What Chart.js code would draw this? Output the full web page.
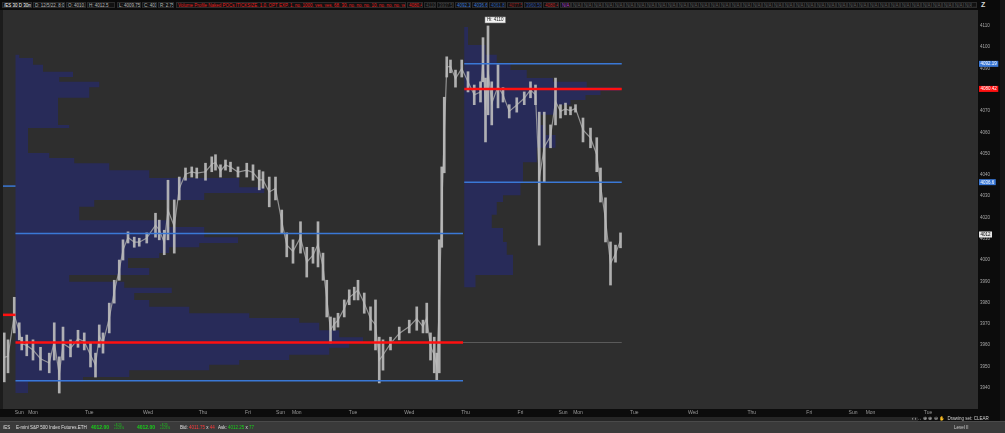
<!DOCTYPE html>
<html>
<head>
<meta charset="utf-8">
<title>ES 30m volume profile</title>
<script src="https://cdn.jsdelivr.net/npm/chart.js"></script>
<style>
  html, body { margin: 0; padding: 0; background: #0c0c0c; width: 1005px; height: 433px; overflow: hidden;
               font-family: "Liberation Sans", Arial, sans-serif; }
  #wrap { position: absolute; left: 0; top: 0; width: 1005px; height: 417px; }
  #header { position: absolute; left: 0; top: 0; width: 1005px; height: 10px; background: #0a0a0a; z-index: 2; }
  .hb { position: absolute; top: 2px; height: 6px; line-height: 6px; font-size: 4.5px; white-space: nowrap; overflow: hidden;
        border: 1px solid #2c2c2c; background: #121212; color: #b8b8b8; padding: 0 1px; box-sizing: border-box; }
  #vscroll { position: absolute; left: 1000px; top: 0; width: 5px; height: 421px; background: #161616; z-index: 2; }
  #hscroll { position: absolute; left: 0; top: 417px; width: 918px; height: 4px; background: #262626; }
  #tools { position: absolute; left: 912px; top: 415px; width: 88px; height: 7px; font-size: 4.5px; line-height: 7px;
           color: #d0d0d0; white-space: nowrap; }
  #status { position: absolute; left: 0; top: 421px; width: 1005px; height: 12px; background: #3a3a3a;
            border-top: 1px solid #4a4a4a; box-sizing: border-box; }
  .sb { position: absolute; top: 3px; font-size: 4.5px; line-height: 6px; white-space: nowrap; color: #e0e0e0; }
  .big { font-weight: bold; font-size: 5px; color: #19d119; }
  .tiny { font-size: 3px; line-height: 3px; color: #19d119; }
</style>
</head>
<body>
<div id="wrap"><canvas id="chart" width="1005" height="417"></canvas></div>
<div id="header"></div>
<div id="vscroll"></div>
<div id="hscroll"></div>
<div id="tools">‹ › ↔ ⊕ ⊕ ⊖ ✋ &nbsp;Drawing set: CLEAR</div>
<div id="status">
  <span class="sb" style="left:3px">/ES</span>
  <span class="sb" style="left:16px">E-mini S&amp;P 500 Index Futures.ETH</span>
  <span class="sb big" style="left:91px;top:2px">4012.00</span>
  <span class="sb tiny" style="left:114px;top:2px">+8.25<br>+0.21%</span>
  <span class="sb big" style="left:137px;top:2px">4012.00</span>
  <span class="sb tiny" style="left:160px;top:2px">+8.25<br>+0.21%</span>
  <span class="sb" style="left:180px">Bid: <span style="color:#ff3b3b">4011.75</span> x <span style="color:#ff3b3b">44</span></span>
  <span class="sb" style="left:218px">Ask: <span style="color:#19d119">4012.25</span> x <span style="color:#19d119">77</span></span>
  <span class="sb" style="left:954px;color:#cfcfcf">Level II</span>
</div>
<script>
// ---- x axis: 30-minute bars since the left edge of the chart ----
const dayTickBars = [13, 24, 69, 116, 160, 196, 222, 235, 280, 325, 370, 414, 448, 460, 505, 552, 599, 645, 680, 694, 740];
const dayTickLabels = ['Sun', 'Mon', 'Tue', 'Wed', 'Thu', 'Fri', 'Sun', 'Mon', 'Tue', 'Wed', 'Thu', 'Fri',
                       'Sun', 'Mon', 'Tue', 'Wed', 'Thu', 'Fri', 'Sun', 'Mon', 'Tue'];
const priceTicks = [3940, 3950, 3960, 3970, 3980, 3990, 4000, 4010, 4020, 4030, 4040, 4050,
                    4060, 4070, 4080, 4090, 4100, 4110];

// ---- price ranges (low / high) sampled along the bars ----
const barTime = [1, 4, 9, 13, 15, 19, 24, 30, 37, 41, 45, 48, 54, 60, 65, 70, 74, 77, 80, 85,
  89, 93, 96, 100, 105, 109, 115, 122, 125, 129, 132, 137, 141, 146, 151, 155, 162, 167, 170, 174,
  178, 182, 188, 195, 200, 205, 208, 213, 218, 223, 227, 232, 238, 243, 248, 252, 256, 259, 262, 265,
  268, 273, 277, 281, 284, 289, 294, 298, 301, 304, 310, 317, 325, 331, 336, 339, 342, 345, 347, 349,
  351, 353, 355, 358, 362, 367, 372, 377, 382, 384, 386, 388, 391, 396, 400, 405, 411, 417, 422, 426,
  429, 433, 438, 442, 446, 450, 454, 458, 464, 470, 475, 478, 482, 486, 490, 494];
const barLow = [3942.75, 3947, 3965.75, 3962.5, 3957.75, 3955, 3953, 3948.25, 3947, 3953, 3937.5, 3953,
  3954.5, 3959, 3957.75, 3949.75, 3945, 3959, 3956.25, 3965.75, 3979.75, 3990.5, 4000, 4008, 4006,
  4006.5, 4008, 4010.75, 4009.5, 4002.5, 4009.5, 4003.25, 4028.25, 4037.5, 4039, 4038.5, 4037.5, 4041.5,
  4042.25, 4039, 4042.25, 4041.5, 4039, 4039, 4037.5, 4033, 4033.75, 4025, 4028.25, 4012.75, 4001.5,
  3998.5, 4003.25, 3992, 3998.5, 3996.75, 3990.5, 3973.25, 3961, 3967, 3968.5, 3973.25, 3979, 3981.25,
  3981.25, 3975, 3967, 3957.75, 3942.25, 3948.25, 3957.75, 3962.5, 3965.75, 3967, 3965.75, 3965.75,
  3953, 3947, 3943.5, 3947, 4006, 4041, 4086, 4088, 4081.25, 4086, 4079, 4073, 4074.25, 4083.75,
  4055.5, 4068.25, 4063.5, 4071.5, 4074.25, 4066.75, 4069.5, 4073, 4076.25, 4073, 4007, 4036.75,
  4052.75, 4063.5, 4066.75, 4068.25, 4068.25, 4069.5, 4055.5, 4052.75, 4041.5, 4027.25, 4008.5,
  3988.25, 3999, 4005.75];
const barHigh = [3965.75, 3962.5, 3982.5, 3970.5, 3963.75, 3964.75, 3962.5, 3959, 3956.25, 3970.5, 3954.5,
  3968.5, 3962.5, 3967, 3965.75, 3961, 3956.25, 3969.5, 3965.75, 3979.75, 3990.5, 4000, 4009.5, 4013.25,
  4010.75, 4010.25, 4012.75, 4022, 4018.75, 4014, 4037.5, 4028.25, 4039, 4043.25, 4043.75, 4043.25,
  4045.5, 4048.5, 4049.5, 4044.75, 4047, 4046, 4043.75, 4045.5, 4044.75, 4042.25, 4041.5, 4039, 4039,
  4023.5, 4012.75, 4009.5, 4018, 4006, 4006, 4018, 4003.25, 3990.5, 3973.25, 3972.75, 3975, 3981.25,
  3986, 3987.25, 3990.5, 3984.5, 3978, 3981.25, 3963.75, 3962.5, 3963.75, 3968.5, 3971.75, 3978,
  3971.75, 3979.75, 3965.75, 3963.75, 3956.25, 4009.5, 4043.75, 4076.5, 4095.5, 4094, 4089.25, 4094,
  4088.5, 4082.25, 4083.75, 4104.5, 4085.5, 4110, 4083.75, 4091.75, 4081, 4073, 4076.25, 4079, 4083.75,
  4082.25, 4069.5, 4069.5, 4063.5, 4085.5, 4073, 4073.75, 4072, 4073, 4066.75, 4062, 4057.5, 4043.25,
  4029.25, 4008.5, 4007, 4012.75];

// ---- volume profiles: row top price (top to bottom) and relative volume ----
const leftProfileStart = 10;
const leftProfileTop = [4096.5, 4095, 4091.75, 4088.5, 4086, 4083.75, 4081.25, 4076.25, 4063.5, 4062,
  4050.25, 4048, 4045.5, 4042.25, 4038.5, 4034.25, 4031.5, 4028.25, 4025, 4018.75, 4015.5, 4010.75,
  4008, 4006, 4003.25, 4001, 3996.25, 3993, 3989.75, 3987, 3984.5, 3981.25, 3978, 3975, 3972.75,
  3970.5, 3967, 3963.75, 3961, 3958.75, 3955.5, 3953, 3950.75, 3948.25, 3945, 3942.75];
const leftProfileVol = [3, 14, 22, 46, 35, 67, 59, 34, 43, 10, 27, 47, 75, 107, 179, 199, 151, 63, 51,
  123, 151, 178, 147, 123, 115, 90, 107, 43, 87, 125, 95, 107, 139, 187, 227, 243, 259, 278, 267, 251,
  219, 179, 155, 91, 54, 10];
const leftProfileLow = 3937.5;

const rightProfileStart = 369;
const rightProfileTop = [4109.5, 4101, 4096.5, 4092.5, 4089.25, 4085.5, 4083.75, 4081.25, 4079.5, 4077.5,
  4075.25, 4073, 4068.25, 4063.5, 4058.75, 4052.75, 4046, 4036.75, 4030.5, 4027.25, 4021.25, 4015,
  4008.5, 4002.5, 3993];
const rightProfileVol = [3, 17, 26, 37, 50, 71, 98, 125, 109, 97, 85, 74, 61, 65, 73, 58, 47, 45, 31, 26,
  22, 31, 34, 39, 9];
const rightProfileLow = 3987.25;

// ---- value area / POC levels ----
const levelPrice = [4012.5, 3961.25, 3943.25, 4034.75, 3974.25, 4092.19, 4080.42, 4036.6, 3961.25];
const levelFrom  = [10, 10, 10, 0, 0, 369, 369, 369, 368];
const levelTo    = [368, 368, 368, 10, 10, 495, 495, 495, 495];
const levelKind  = ['va', 'poc', 'va', 'va', 'poc', 'va', 'poc', 'va', 'naked'];

// ---- price axis markers ----
const markerValues = [4092.19, 4080.42, 4036.6, 4012];
const markerKinds = ['va', 'poc', 'va', 'last'];

const BLUE = '#3a78d6';
const RED = '#ff1010';
const PROFILE = '#282b59';
const FONT = '"Liberation Sans", Arial, sans-serif';

// header strip
const headerItems = [
  [2, 30, '/ES 30 D 30m', '#ffffff'], [33, 32, 'D: 12/5/22, 8:00 PM', '#b8b8b8'],
  [66, 20, 'O: 4010.5', '#b8b8b8'], [87, 28, 'H: 4012.5', '#b8b8b8'], [117, 24, 'L: 4009.75', '#b8b8b8'],
  [142, 15, 'C: 4012', '#b8b8b8'], [158, 16, 'R: 2.75', '#b8b8b8'],
  [176, 230, 'Volume Profile Naked POCs [TICKSIZE, 1.0, OPT EXP, 1, no, 1000, yes, yes, 68, 30, no, no, no, 10, no, no, no, yes]', '#e52020'],
  [407, 16, '4080.42', '#e52020'], [424, 12, '4110', '#4a4a4a'], [437, 17, '3937.5', '#4a4a4a'],
  [455, 16, '4092.19', '#3a78d6'], [472, 16, '4036.6', '#3a78d6'], [489, 17, '4061.81', '#2a5aa8'],
  [507, 16, '4077.50', '#9a2020'], [524, 18, '3960.50', '#2c4c9c'], [543, 16, '4080.42', '#c02828'],
  [560, 11, 'N/A', '#b040c8']
];
const header = document.getElementById('header');
function addBox(left, width, text, color) {
  const s = document.createElement('span');
  s.className = 'hb';
  s.style.left = left + 'px';
  s.style.width = width + 'px';
  s.style.color = color;
  s.textContent = text;
  header.appendChild(s);
}
headerItems.forEach(h => addBox(h[0], h[1], h[2], h[3]));
for (let x = 571; x < 968; x += 10.6) addBox(Math.round(x), 11, 'N/A', '#5a5a5a');
addBox(971, 6, '…', '#5a5a5a');
const z = document.createElement('span');
z.textContent = 'Z';
z.style.cssText = 'position:absolute;left:981px;top:1px;font-size:7px;line-height:8px;color:#d8d8d8;font-weight:bold;';
header.appendChild(z);

function profileShape(start, tops, vols, low) {
  const pts = [{x: start, y: tops[0]}];
  for (let i = 0; i < tops.length; i++) {
    const bottom = i + 1 < tops.length ? tops[i + 1] : low;
    pts.push({x: start + vols[i], y: tops[i]});
    pts.push({x: start + vols[i], y: bottom});
  }
  pts.push({x: start, y: low});
  return pts;
}

const levelStyle = {
  va: {color: BLUE, width: 1.5},
  poc: {color: RED, width: 2.5},
  naked: {color: '#5a5a5a', width: 1}
};

const datasets = [];
levelPrice.forEach((p, i) => {
  const st = levelStyle[levelKind[i]];
  datasets.push({
    type: 'line',
    data: [{x: levelFrom[i], y: p}, {x: levelTo[i], y: p}],
    borderColor: st.color,
    borderWidth: st.width,
    pointRadius: 0,
    fill: false,
    order: 0
  });
});
datasets.push({
  type: 'bar',
  data: barTime.map((t, i) => ({x: t, y: [barLow[i], barHigh[i]]})),
  backgroundColor: 'rgba(190,190,190,0.9)',
  barThickness: 2,
  order: 1
});
datasets.push({
  type: 'line',
  data: barTime.map((t, i) => ({x: t, y: (barLow[i] + barHigh[i]) / 2})),
  borderColor: 'rgba(165,165,165,0.85)',
  borderWidth: 1.2,
  pointRadius: 0,
  fill: false,
  order: 2
});
[[leftProfileStart, leftProfileTop, leftProfileVol, leftProfileLow],
 [rightProfileStart, rightProfileTop, rightProfileVol, rightProfileLow]].forEach(p => {
  datasets.push({
    type: 'line',
    data: profileShape(p[0], p[1], p[2], p[3]),
    borderWidth: 0,
    borderColor: 'rgba(0,0,0,0)',
    backgroundColor: PROFILE,
    pointRadius: 0,
    fill: 'shape',
    order: 5
  });
});

const bgPlugin = {
  id: 'bg',
  beforeDraw(c) {
    const {ctx, chartArea: a} = c;
    ctx.save();
    ctx.fillStyle = '#0c0c0c';
    ctx.fillRect(0, 0, c.width, c.height);
    ctx.fillStyle = '#1c1c1c';
    ctx.fillRect(0, a.top, a.left, a.bottom - a.top);
    ctx.fillStyle = '#2e2e2e';
    ctx.fillRect(a.left, a.top, a.right - a.left, a.bottom - a.top);
    ctx.restore();
  }
};

const markerPlugin = {
  id: 'markers',
  afterDraw(c) {
    const {ctx, chartArea: a} = c;
    const y = c.scales.y, x = c.scales.x;
    ctx.save();
    ctx.font = '4.5px ' + FONT;
    ctx.textBaseline = 'middle';
    markerValues.forEach((v, i) => {
      const py = y.getPixelForValue(v);
      const text = String(v);
      const w = ctx.measureText(text).width + 3;
      const kind = markerKinds[i];
      ctx.fillStyle = kind === 'poc' ? RED : kind === 'last' ? '#e6e6e6' : BLUE;
      ctx.fillRect(a.right + 1, py - 3, w, 6);
      ctx.fillStyle = kind === 'last' ? '#000' : '#fff';
      ctx.fillText(text, a.right + 2.5, py + 0.3);
    });
    // session high label
    let hi = 0;
    barHigh.forEach((h, i) => { if (h > barHigh[hi]) hi = i; });
    const hx = x.getPixelForValue(barTime[hi]);
    const hy = y.getPixelForValue(barHigh[hi]);
    const label = 'Hi: ' + barHigh[hi];
    const lw = ctx.measureText(label).width + 4;
    ctx.fillStyle = '#f2f2f2';
    ctx.strokeStyle = '#888';
    ctx.lineWidth = 0.5;
    ctx.fillRect(hx - 3, hy - 9, lw, 6);
    ctx.strokeRect(hx - 3, hy - 9, lw, 6);
    ctx.fillStyle = '#222';
    ctx.fillText(label, hx - 1, hy - 5.7);
    ctx.restore();
  }
};

Chart.defaults.font.family = FONT;

new Chart(document.getElementById('chart'), {
  type: 'line',
  data: {datasets},
  options: {
    responsive: false,
    animation: false,
    layout: {padding: {left: 3, top: 10, right: 5, bottom: 0}},
    plugins: {legend: {display: false}, tooltip: {enabled: false}},
    scales: {
      x: {
        type: 'linear', min: 0, max: 780, offset: false,
        grid: {display: false, drawTicks: false}, border: {display: false},
        afterBuildTicks: s => { s.ticks = dayTickBars.map(v => ({value: v})); },
        afterFit: s => { s.height = 8; },
        ticks: {autoSkip: false, maxRotation: 0, color: '#9a9a9a', font: {size: 5}, padding: 1,
                callback: (v, i) => dayTickLabels[i]}
      },
      y: {
        type: 'linear', position: 'right', min: 3930, max: 4117.5,
        grid: {display: false, drawTicks: false}, border: {display: false},
        afterBuildTicks: s => { s.ticks = priceTicks.map(v => ({value: v})); },
        afterFit: s => { s.width = 22; },
        ticks: {autoSkip: false, color: '#a8a8a8', font: {size: 4.5}, padding: 2, callback: v => String(v)}
      }
    }
  },
  plugins: [bgPlugin, markerPlugin]
});
</script>
</body>
</html>
